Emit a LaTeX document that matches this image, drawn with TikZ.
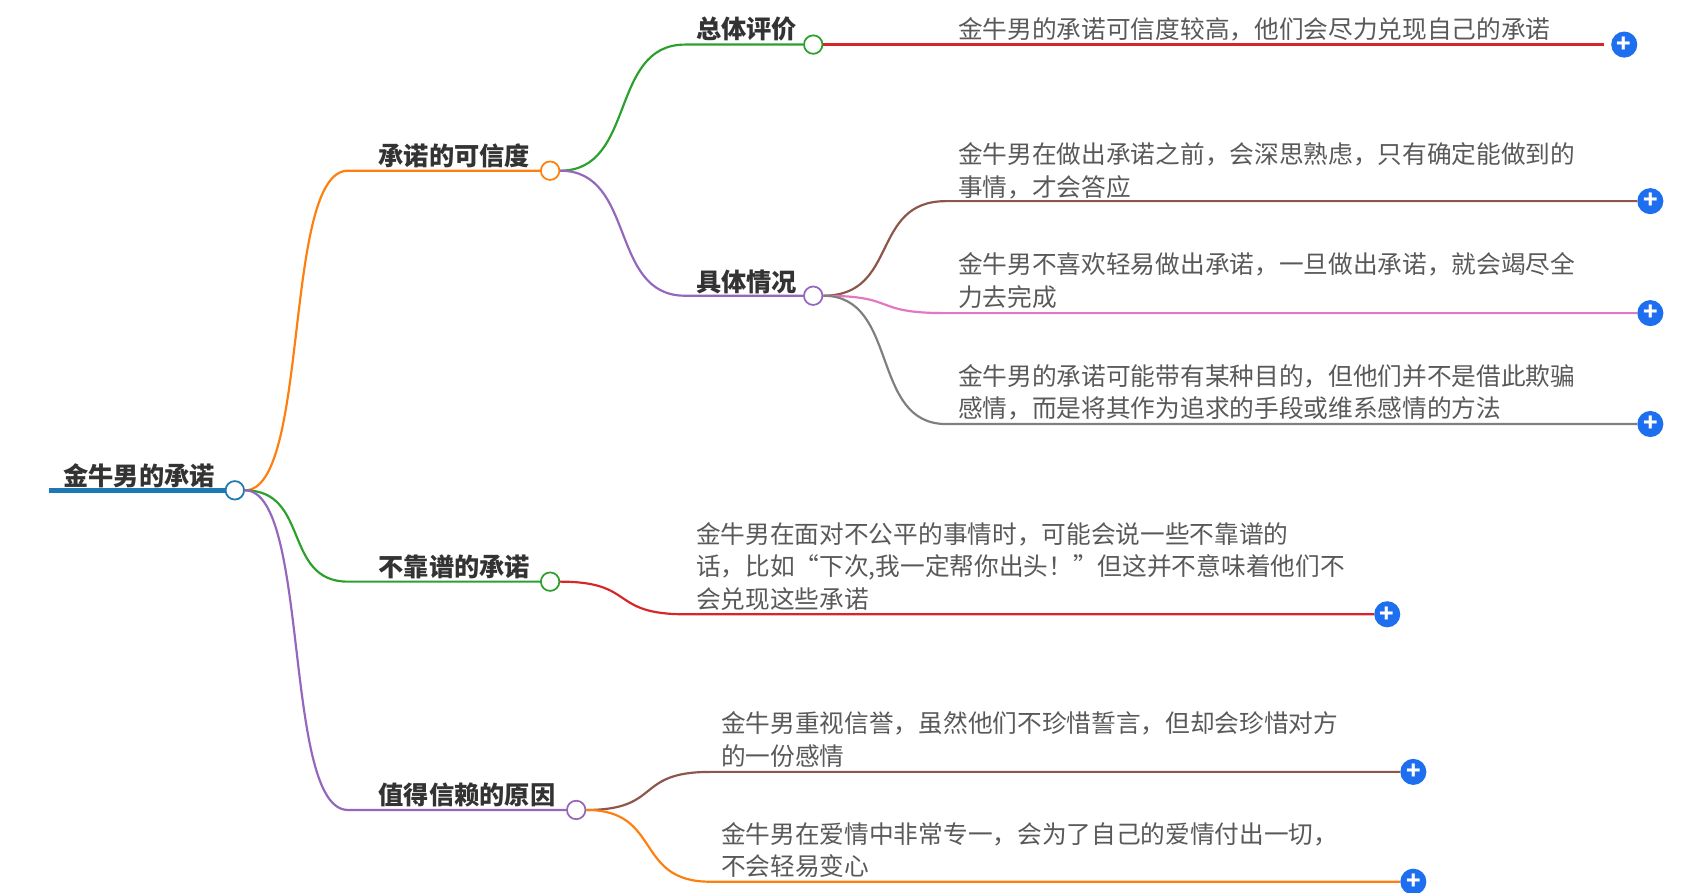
\documentclass[tikz,border=0pt]{standalone}
\usepackage{fontspec}
\setmainfont{Noto Sans CJK SC}
\usetikzlibrary{positioning}
\definecolor{cblue}{HTML}{1F77B4}
\definecolor{corange}{HTML}{FF7F0E}
\definecolor{cgreen}{HTML}{2CA02C}
\definecolor{cred}{HTML}{D62728}
\definecolor{cpurple}{HTML}{9467BD}
\definecolor{cbrown}{HTML}{8C564B}
\definecolor{cpink}{HTML}{E377C2}
\definecolor{cgray}{HTML}{7F7F7F}
\definecolor{cplus}{HTML}{1E6FF0}
\begin{document}
\begin{tikzpicture}[x=0.5pt,y=-0.5pt]
            \tikzstyle{topic}=[anchor=west, inner sep=0pt, font=\fontsize{11.6}{13}\selectfont\bfseries, text=black!80]
            \tikzstyle{leaf}=[anchor=west, inner sep=0pt, align=left, font=\fontsize{11.35}{15}\selectfont, text=black!65]
            \tikzstyle{knob}=[circle, draw, fill=white, line width=0.8pt, minimum size=8.5pt, inner sep=0pt]
            \tikzstyle{plus}=[circle, fill=cplus, minimum size=12pt, inner sep=0pt, text=white, font=\fontsize{11}{11}\selectfont\bfseries]
            \tikzstyle{connect}=[line width=1pt]
            \useasboundingbox (0,0) rectangle (1560,821);
            % root
            \coordinate (R0) at (45,451);
            \node[topic] (R) at (58,438){金牛男的承诺};
            \draw[cblue, line width=2pt] (R0) -- (208,451);
            \node[knob, draw=cblue] (Rk) at (216,451){};
            % first level
            \coordinate (A0) at (320,157);
            \node[topic] (A) at (348,143){承诺的可信度};
            \node[knob, draw=corange] (Ak) at (506,157){};
            \coordinate (B0) at (320,535);
            \node[topic] (B) at (348,521){不靠谱的承诺};
            \node[knob, draw=cgreen] (Bk) at (506,535){};
            \coordinate (C0) at (320,745);
            \node[topic] (C) at (348,731){值得信赖的原因};
            \node[knob, draw=cpurple] (Ck) at (530,745){};
            % second level
            \coordinate (A10) at (630,41);
            \node[topic] (A1) at (640,27){总体评价};
            \node[knob, draw=cgreen] (A1k) at (748,41){};
            \coordinate (A20) at (630,272);
            \node[topic] (A2) at (640,259){具体情况};
            \node[knob, draw=cpurple] (A2k) at (748,272){};
            % leaves
            \node[leaf] (L1) at (881,27){金牛男的承诺可信度较高，他们会尽力兑现自己的承诺};
            \coordinate (L1a) at (866,41); \node[plus] (P1) at (1494,41){+};
            \node[leaf] (L2) at (881,157){金牛男在做出承诺之前，会深思熟虑，只有确定能做到的\\事情，才会答应};
            \coordinate (L2a) at (870,185); \node[plus] (P2) at (1518,185){+};
            \node[leaf] (L3) at (881,258){金牛男不喜欢轻易做出承诺，一旦做出承诺，就会竭尽全\\力去完成};
            \coordinate (L3a) at (870,288); \node[plus] (P3) at (1518,288){+};
            \node[leaf] (L4) at (881,361){金牛男的承诺可能带有某种目的，但他们并不是借此欺骗\\感情，而是将其作为追求的手段或维系感情的方法};
            \coordinate (L4a) at (870,390); \node[plus] (P4) at (1518,390){+};
            \node[leaf] (L5) at (640,521){金牛男在面对不公平的事情时，可能会说一些不靠谱的\\话，比如“下次,我一定帮你出头！”但这并不意味着他们不\\会兑现这些承诺};
            \coordinate (L5a) at (630,565); \node[plus] (P5) at (1276,565){+};
            \node[leaf] (L6) at (663,680){金牛男重视信誉，虽然他们不珍惜誓言，但却会珍惜对方\\的一份感情};
            \coordinate (L6a) at (653,710); \node[plus] (P6) at (1300,710){+};
            \node[leaf] (L7) at (663,782){金牛男在爱情中非常专一，会为了自己的爱情付出一切，\\不会轻易变心};
            \coordinate (L7a) at (653,811); \node[plus] (P7) at (1300,811){+};
            % connectors
            \draw[connect, corange] (Rk.east) .. controls +(60,0) and +(-60,0) .. (A0) -- (Ak.west);
            \draw[connect, cgreen] (Rk.east) .. controls +(60,0) and +(-60,0) .. (B0) -- (Bk.west);
            \draw[connect, cpurple] (Rk.east) .. controls +(60,0) and +(-60,0) .. (C0) -- (Ck.west);
            \draw[connect, cgreen] (Ak.east) .. controls +(70,0) and +(-70,0) .. (A10) -- (A1k.west);
            \draw[connect, cpurple] (Ak.east) .. controls +(70,0) and +(-70,0) .. (A20) -- (A2k.west);
            \draw[connect, cred] (A1k.east) -- (L1a) -- (P1.west -| 1475,0);
            \draw[connect, cbrown] (A2k.east) .. controls +(70,0) and +(-70,0) .. (L2a) -- (P2.west);
            \draw[connect, cpink] (A2k.east) .. controls +(70,0) and +(-70,0) .. (L3a) -- (P3.west);
            \draw[connect, cgray] (A2k.east) .. controls +(70,0) and +(-70,0) .. (L4a) -- (P4.west);
            \draw[connect, cred] (Bk.east) .. controls +(70,0) and +(-70,0) .. (L5a) -- (P5.west);
            \draw[connect, cbrown] (Ck.east) .. controls +(70,0) and +(-70,0) .. (L6a) -- (P6.west);
            \draw[connect, corange] (Ck.east) .. controls +(70,0) and +(-70,0) .. (L7a) -- (P7.west);
        \end{tikzpicture}
\end{document}
